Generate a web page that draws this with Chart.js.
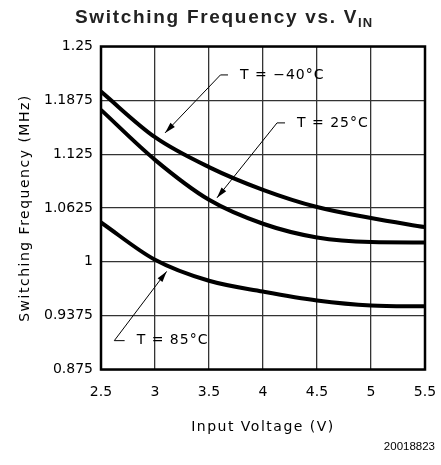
<!DOCTYPE html>
<html>
<head>
<meta charset="utf-8">
<script src="https://cdn.jsdelivr.net/npm/chart.js@4/dist/chart.umd.min.js"></script>
<style>
  html, body { margin: 0; padding: 0; background: #fff; }
  #wrap { width: 441px; height: 465px; }
</style>
</head>
<body>
<div id="wrap"><canvas id="myChart" width="441" height="465"></canvas></div>
<script>
// input voltage (V)
const vin = [2.5, 3, 3.5, 4, 4.5, 5, 5.5];
// switching frequency (MHz) per temperature
const fMinus40 = [1.1976, 1.1447, 1.110, 1.0836, 1.0636, 1.0508, 1.0403];
const f25 = [1.1764, 1.1184, 1.072, 1.0442, 1.0283, 1.023, 1.0225];
const f85 = [1.0457, 1.0024, 0.978, 0.9655, 0.9552, 0.9494, 0.9483];

const xTicks = [2.5, 3, 3.5, 4, 4.5, 5, 5.5];
const xTickLabels = ["2.5", "3", "3.5", "4", "4.5", "5", "5.5"];
const yTicks = [0.875, 0.9375, 1, 1.0625, 1.125, 1.1875, 1.25];
const yTickLabels = ["0.875", "0.9375", "1", "1.0625", "1.125", "1.1875", "1.25"];

// callouts: label, text anchor, elbow, arrow tip (data units)
const callouts = [
  { text: "T = \u221240\u00b0C", textAt: [3.787, 1.217], elbow: [3.606, 1.217], tip: [3.093, 1.1497] },
  { text: "T = 25\u00b0C", textAt: [4.315, 1.1613], elbow: [4.13, 1.1613], tip: [3.574, 1.0743] },
  { text: "T = 85\u00b0C", textAt: [2.83, 0.9085], elbow: [2.623, 0.9085], tip: [3.108, 0.9889] },
];

const toPoints = (arr) => arr.map((v, i) => ({ x: vin[i], y: v }));

const grafica = document.getElementById("myChart").getContext("2d");

const extras = {
  id: "extras",
  beforeDatasetsDraw(chart) {
    const { ctx, chartArea: a } = chart;
    ctx.save();
    ctx.strokeStyle = "#000";
    ctx.lineWidth = 2.5;
    ctx.strokeRect(a.left, a.top, a.right - a.left, a.bottom - a.top);
    ctx.restore();
  },
  afterDraw(chart) {
    const { ctx } = chart;
    const xs = chart.scales.x;
    const ys = chart.scales.y;
    ctx.save();

    // callouts
    ctx.strokeStyle = "#000";
    ctx.fillStyle = "#000";
    ctx.lineWidth = 1;
    ctx.font = "14px 'DejaVu Sans'";
    ctx.letterSpacing = "1px";
    ctx.textBaseline = "middle";
    ctx.textAlign = "left";
    for (const c of callouts) {
      const tx = xs.getPixelForValue(c.textAt[0]);
      const ty = ys.getPixelForValue(c.textAt[1]);
      const ex = xs.getPixelForValue(c.elbow[0]);
      const ey = ys.getPixelForValue(c.elbow[1]);
      const px = xs.getPixelForValue(c.tip[0]);
      const py = ys.getPixelForValue(c.tip[1]);
      ctx.beginPath();
      ctx.moveTo(tx - 12, ey);
      ctx.lineTo(ex, ey);
      ctx.lineTo(px, py);
      ctx.stroke();
      const ang = Math.atan2(py - ey, px - ex);
      const len = 11, wid = 3;
      ctx.beginPath();
      ctx.moveTo(px, py);
      ctx.lineTo(px - len * Math.cos(ang) + wid * Math.sin(ang), py - len * Math.sin(ang) - wid * Math.cos(ang));
      ctx.lineTo(px - len * Math.cos(ang) - wid * Math.sin(ang), py - len * Math.sin(ang) + wid * Math.cos(ang));
      ctx.closePath();
      ctx.fill();
      ctx.fillText(c.text, tx, ty);
    }

    // axis titles
    ctx.letterSpacing = "1.5px";
    ctx.textAlign = "center";
    ctx.fillText("Input Voltage (V)", (xs.left + xs.right) / 2, 427);
    ctx.save();
    ctx.translate(25, (ys.top + ys.bottom) / 2);
    ctx.rotate(-Math.PI / 2);
    ctx.fillText("Switching Frequency (MHz)", 0, 0);
    ctx.restore();

    // main title with subscript
    const main = "Switching Frequency vs. V";
    const sub = "IN";
    ctx.letterSpacing = "1.7px";
    ctx.font = "bold 19px 'Liberation Sans'";
    const w1 = ctx.measureText(main).width;
    ctx.letterSpacing = "1px";
    ctx.font = "bold 13px 'Liberation Sans'";
    const w2 = ctx.measureText(sub).width;
    const startX = 224 - (w1 + w2) / 2;
    ctx.textAlign = "left";
    ctx.textBaseline = "alphabetic";
    ctx.fillStyle = "#222";
    ctx.letterSpacing = "1.7px";
    ctx.font = "bold 19px 'Liberation Sans'";
    ctx.fillText(main, startX, 23);
    ctx.letterSpacing = "1px";
    ctx.font = "bold 13px 'Liberation Sans'";
    ctx.fillText(sub, startX + w1, 27);

    // figure number
    ctx.letterSpacing = "0px";
    ctx.font = "11.5px 'Liberation Sans'";
    ctx.textAlign = "right";
    ctx.textBaseline = "middle";
    ctx.fillStyle = "#000";
    ctx.fillText("20018823", 435, 447);
    ctx.restore();
  },
};

const lineStyle = {
  borderColor: "#000",
  borderWidth: 4,
  pointRadius: 0,
  fill: false,
  cubicInterpolationMode: "monotone",
};

const myChart = new Chart(grafica, {
  type: "line",
  data: {
    datasets: [
      { label: "T = -40°C", data: toPoints(fMinus40), ...lineStyle },
      { label: "T = 25°C", data: toPoints(f25), ...lineStyle },
      { label: "T = 85°C", data: toPoints(f85), ...lineStyle },
    ],
  },
  options: {
    responsive: false,
    animation: false,
    layout: { padding: { top: 46.5, right: 16, left: 0, bottom: 0 } },
    plugins: {
      legend: { display: false },
      title: { display: false },
      tooltip: { enabled: false },
    },
    scales: {
      x: {
        type: "linear",
        min: 2.5,
        max: 5.5,
        afterBuildTicks: (scale) => {
          scale.ticks = xTicks.map((v) => ({ value: v }));
        },
        afterFit: (scale) => {
          scale.height = 95.5;
          scale.paddingLeft = 0;
          scale.paddingRight = 0;
        },
        ticks: {
          callback: (v) => xTickLabels[xTicks.indexOf(v)],
          color: "#000",
          font: { family: "'DejaVu Sans'", size: 14 },
          padding: 14,
          maxRotation: 0,
        },
        grid: { color: "#333", lineWidth: 1.3, drawTicks: false },
        border: { display: false },
      },
      y: {
        type: "linear",
        min: 0.875,
        max: 1.25,
        afterBuildTicks: (scale) => {
          scale.ticks = yTicks.map((v) => ({ value: v }));
        },
        afterFit: (scale) => {
          scale.width = 101;
          scale.paddingTop = 0;
          scale.paddingBottom = 0;
        },
        ticks: {
          callback: (v) => yTickLabels[yTicks.indexOf(v)],
          color: "#000",
          font: { family: "'DejaVu Sans'", size: 14 },
          padding: 8,
        },
        grid: { color: "#333", lineWidth: 1.3, drawTicks: false },
        border: { display: false },
      },
    },
  },
  plugins: [extras],
});
</script>
</body>
</html>
